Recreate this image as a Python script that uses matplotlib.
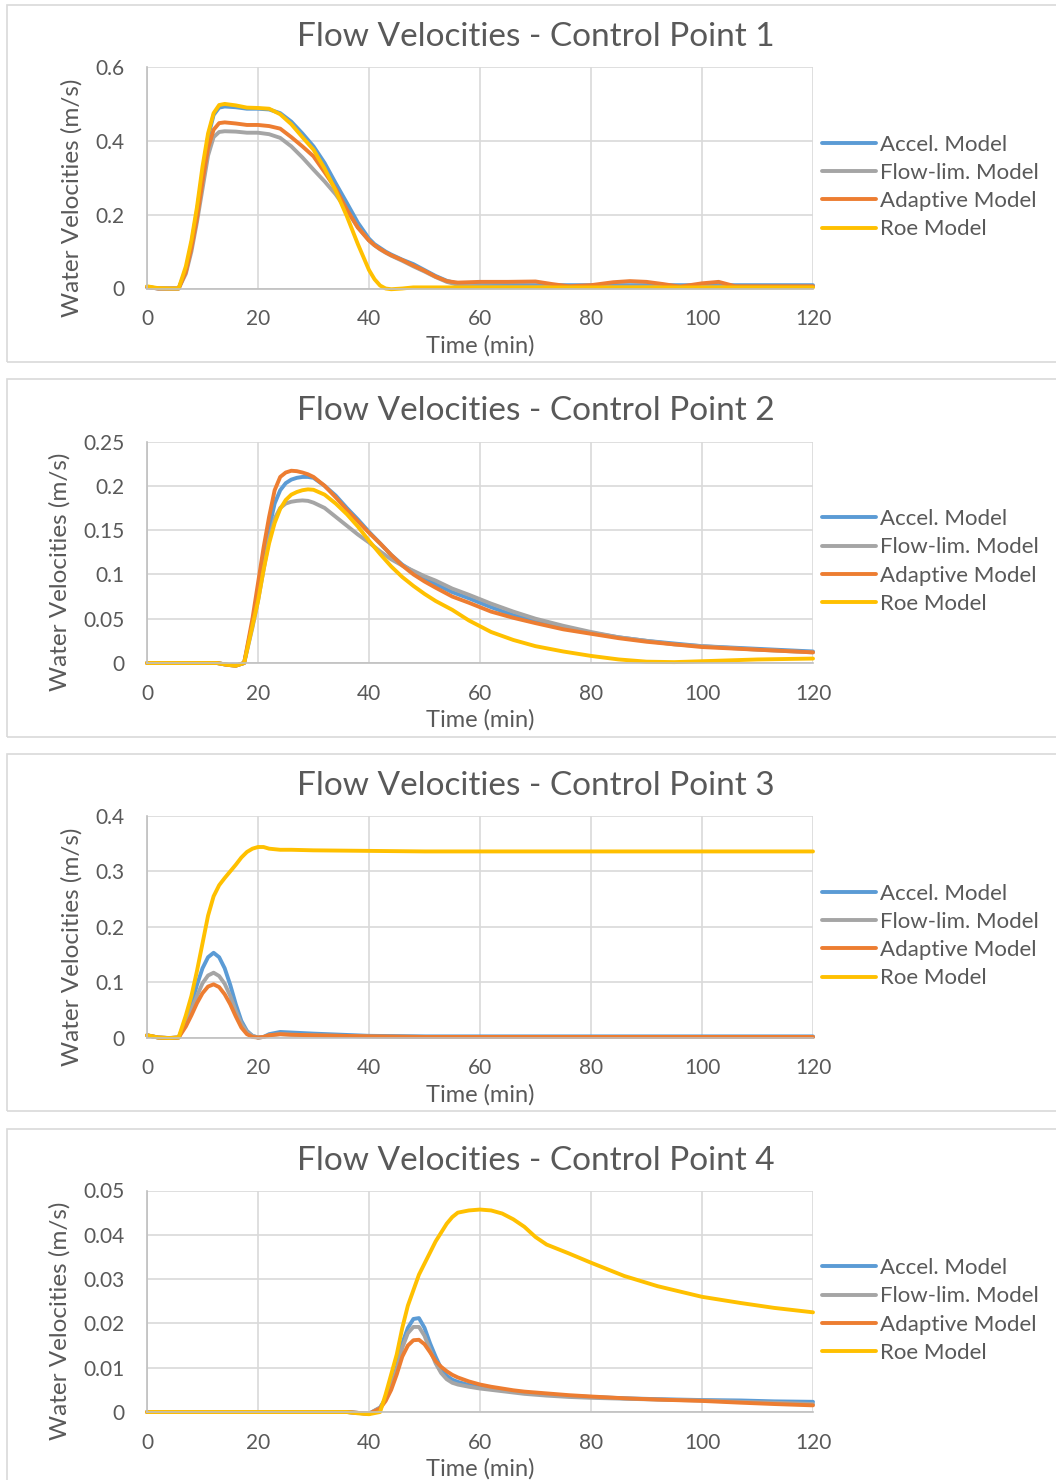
import matplotlib
matplotlib.use("Agg")
import matplotlib.pyplot as plt
from matplotlib.patches import Rectangle

plt.rcParams['font.family'] = ['Lato', 'DejaVu Sans']

# ==========================================
# Datos (tiempo en min, velocidad en m/s)
# ==========================================
series_names = ["Accel. Model", "Flow-lim. Model", "Adaptive Model", "Roe Model"]
series_colors = ["#5B9BD5", "#A5A5A5", "#ED7D31", "#FFC000"]

x_ticks = [0, 20, 40, 60, 80, 100, 120]

# --- Punto de control 1 ---
t1 = [0, 2, 4, 5.7, 7, 8, 9, 10, 11, 12, 13, 14, 16, 18, 20, 22, 24, 26, 28, 30,
      32, 34, 36, 38, 40, 41, 42, 43, 44, 46, 48, 50, 52, 54, 56, 58, 60, 65, 70,
      73, 76, 80, 84, 87, 90, 93, 96, 100, 103, 106, 110, 115, 120]
accel_1 = [0.004, 0, 0, 0, 0.05, 0.12, 0.21, 0.31, 0.41, 0.47, 0.49, 0.493, 0.491, 0.487,
           0.487, 0.485, 0.475, 0.452, 0.42, 0.385, 0.34, 0.285, 0.232, 0.178, 0.135, 0.12,
           0.11, 0.10, 0.092, 0.078, 0.066, 0.05, 0.034, 0.021, 0.013, 0.010, 0.009, 0.009,
           0.009, 0.009, 0.009, 0.009, 0.009, 0.009, 0.009, 0.009, 0.009, 0.009, 0.009,
           0.009, 0.009, 0.009, 0.009]
flowlim_1 = [0.004, 0, 0, 0, 0.04, 0.10, 0.18, 0.27, 0.36, 0.41, 0.424, 0.426, 0.425, 0.422,
             0.422, 0.418, 0.408, 0.385, 0.355, 0.322, 0.29, 0.255, 0.212, 0.165, 0.13, 0.117,
             0.106, 0.097, 0.089, 0.075, 0.06, 0.046, 0.031, 0.018, 0.010, 0.007, 0.006, 0.005,
             0.005, 0.005, 0.005, 0.005, 0.005, 0.005, 0.005, 0.005, 0.005, 0.005, 0.005,
             0.005, 0.005, 0.005, 0.005]
adaptive_1 = [0.004, 0, 0, 0, 0.045, 0.11, 0.19, 0.29, 0.38, 0.43, 0.448, 0.450, 0.447, 0.443,
              0.443, 0.44, 0.433, 0.41, 0.385, 0.358, 0.315, 0.27, 0.214, 0.165, 0.13, 0.117,
              0.107, 0.098, 0.09, 0.077, 0.062, 0.048, 0.032, 0.020, 0.016, 0.017, 0.018, 0.018,
              0.019, 0.012, 0.006, 0.009, 0.017, 0.020, 0.018, 0.012, 0.005, 0.014, 0.018,
              0.006, 0.006, 0.006, 0.006]
roe_1 = [0.006, 0.001, 0, 0, 0.06, 0.13, 0.22, 0.33, 0.42, 0.475, 0.497, 0.500, 0.496, 0.490,
         0.489, 0.487, 0.472, 0.445, 0.41, 0.376, 0.325, 0.265, 0.196, 0.12, 0.05, 0.025,
         0.008, 0.0, -0.002, 0.0, 0.003, 0.003, 0.003, 0.003, 0.003, 0.003, 0.003, 0.003,
         0.003, 0.003, 0.003, 0.003, 0.003, 0.003, 0.003, 0.003, 0.003, 0.003, 0.003,
         0.003, 0.003, 0.003, 0.003]

# --- Punto de control 2 ---
t2 = [0, 5, 10, 12.6, 14.4, 16, 17.5, 19, 20, 21, 22, 23, 24, 25, 26, 27, 28, 29, 30, 32,
      34, 36, 38, 40, 42, 44, 46, 48, 50, 52, 55, 58, 62, 66, 70, 75, 80, 85, 90, 95, 100,
      110, 120]
accel_2 = [0, 0, 0, 0, -0.002, -0.003, 0, 0.045, 0.08, 0.12, 0.152, 0.18, 0.195, 0.203, 0.207,
           0.209, 0.21, 0.21, 0.209, 0.2, 0.189, 0.175, 0.162, 0.148, 0.135, 0.122, 0.111,
           0.103, 0.096, 0.089, 0.08, 0.073, 0.063, 0.054, 0.047, 0.04, 0.034, 0.029, 0.025,
           0.022, 0.019, 0.016, 0.013]
flowlim_2 = [0, 0, 0, 0, -0.002, -0.003, 0, 0.04, 0.07, 0.105, 0.14, 0.163, 0.175, 0.18, 0.182,
             0.183, 0.1835, 0.183, 0.181, 0.175, 0.165, 0.155, 0.145, 0.136, 0.126, 0.117,
             0.11, 0.104, 0.098, 0.093, 0.084, 0.077, 0.067, 0.058, 0.05, 0.042, 0.035, 0.029,
             0.025, 0.021, 0.019, 0.015, 0.012]
adaptive_2 = [0, 0, 0, 0, -0.002, -0.003, 0, 0.05, 0.09, 0.13, 0.165, 0.195, 0.21, 0.215, 0.217,
              0.2165, 0.215, 0.213, 0.21, 0.2, 0.187, 0.173, 0.16, 0.147, 0.135, 0.122, 0.11,
              0.1, 0.092, 0.085, 0.075, 0.068, 0.058, 0.051, 0.045, 0.038, 0.033, 0.028, 0.024,
              0.021, 0.018, 0.015, 0.012]
roe_2 = [0, 0, 0, 0, -0.002, -0.003, 0, 0.042, 0.07, 0.105, 0.135, 0.158, 0.174, 0.184, 0.19,
         0.193, 0.195, 0.196, 0.1955, 0.19, 0.18, 0.168, 0.154, 0.138, 0.123, 0.109, 0.097,
         0.087, 0.078, 0.07, 0.06, 0.048, 0.035, 0.026, 0.019, 0.013, 0.008, 0.004, 0.0015,
         0.001, 0.002, 0.004, 0.005]

# --- Punto de control 3 ---
t3 = [0, 2, 4, 5.7, 7, 8, 9, 10, 11, 12, 13, 14, 15, 16, 17, 18, 19, 20, 21, 22, 24, 26,
      30, 35, 40, 50, 60, 80, 100, 120]
accel_3 = [0.004, 0, -0.001, 0, 0.03, 0.06, 0.095, 0.125, 0.145, 0.153, 0.145, 0.125, 0.095,
           0.06, 0.03, 0.012, 0.003, 0.0, 0.001, 0.006, 0.01, 0.009, 0.007, 0.005, 0.003,
           0.002, 0.002, 0.002, 0.002, 0.002]
flowlim_3 = [0.004, 0, -0.001, 0, 0.025, 0.05, 0.075, 0.098, 0.112, 0.117, 0.111, 0.097,
             0.075, 0.048, 0.025, 0.01, 0.003, 0.0, 0.001, 0.004, 0.006, 0.005, 0.004, 0.003,
             0.002, 0.001, 0.001, 0.001, 0.001, 0.001]
adaptive_3 = [0.004, 0, -0.001, 0, 0.02, 0.04, 0.062, 0.08, 0.092, 0.096, 0.091, 0.078, 0.06,
              0.038, 0.018, 0.006, 0.001, 0.0, 0.001, 0.004, 0.006, 0.005, 0.004, 0.003,
              0.002, 0.001, 0.001, 0.001, 0.001, 0.001]
roe_3 = [0.004, 0, -0.001, 0, 0.04, 0.075, 0.12, 0.17, 0.22, 0.255, 0.275, 0.288, 0.3, 0.312,
         0.325, 0.335, 0.341, 0.344, 0.344, 0.341, 0.339, 0.339, 0.338, 0.3375, 0.337, 0.336,
         0.336, 0.336, 0.336, 0.336]

# --- Punto de control 4 ---
t4 = [0, 10, 20, 30, 36, 38, 40, 42, 43, 44, 45, 46, 47, 48, 49, 50, 51, 52, 53, 54, 55, 56,
      58, 60, 62, 64, 66, 68, 70, 72, 76, 80, 86, 92, 100, 107, 113, 120]
accel_4 = [0, 0, 0, 0, 0, -0.0002, -0.0004, 0.001, 0.003, 0.006, 0.01, 0.0155, 0.019, 0.021,
           0.0212, 0.019, 0.0155, 0.0125, 0.0098, 0.0082, 0.0073, 0.0068, 0.0061, 0.0057,
           0.0053, 0.005, 0.0047, 0.0044, 0.0042, 0.004, 0.0036, 0.0034, 0.0031, 0.0029,
           0.0027, 0.0026, 0.0024, 0.0023]
flowlim_4 = [0, 0, 0, 0, 0, -0.0002, -0.0004, 0.001, 0.003, 0.0058, 0.0095, 0.0145, 0.0178,
             0.0192, 0.0192, 0.0172, 0.014, 0.011, 0.0088, 0.0074, 0.0066, 0.0062, 0.0057,
             0.0053, 0.005, 0.0047, 0.0044, 0.0041, 0.0039, 0.0037, 0.0034, 0.0032, 0.003,
             0.0028, 0.0026, 0.0023, 0.0021, 0.0018]
adaptive_4 = [0, 0, 0, 0, 0, -0.0002, -0.0004, 0.0008, 0.0025, 0.005, 0.0085, 0.0125, 0.015,
              0.0162, 0.0163, 0.0153, 0.0135, 0.0115, 0.0102, 0.0092, 0.0084, 0.0078, 0.0069,
              0.0062, 0.0057, 0.0053, 0.0049, 0.0046, 0.0044, 0.0042, 0.0038, 0.0035, 0.0031,
              0.0028, 0.0025, 0.0021, 0.0018, 0.0015]
roe_4 = [0, 0, 0, 0, 0, -0.0003, -0.0005, 0.0, 0.004, 0.0085, 0.013, 0.019, 0.024, 0.0275,
         0.031, 0.0335, 0.036, 0.0385, 0.0405, 0.0425, 0.044, 0.045, 0.0455, 0.0457, 0.0455,
         0.0448, 0.0435, 0.0418, 0.0395, 0.0378, 0.0358, 0.0337, 0.0307, 0.0284, 0.026,
         0.0246, 0.0235, 0.0225]

y_ticks_1 = [0, 0.2, 0.4, 0.6]
y_labels_1 = ["0", "0.2", "0.4", "0.6"]
y_ticks_2 = [0, 0.05, 0.1, 0.15, 0.2, 0.25]
y_labels_2 = ["0", "0.05", "0.1", "0.15", "0.2", "0.25"]
y_ticks_3 = [0, 0.1, 0.2, 0.3, 0.4]
y_labels_3 = ["0", "0.1", "0.2", "0.3", "0.4"]
y_ticks_4 = [0, 0.01, 0.02, 0.03, 0.04, 0.05]
y_labels_4 = ["0", "0.01", "0.02", "0.03", "0.04", "0.05"]

panels = [
    ("Flow Velocities - Control Point 1", t1, [accel_1, flowlim_1, adaptive_1, roe_1], y_ticks_1, y_labels_1),
    ("Flow Velocities - Control Point 2", t2, [accel_2, flowlim_2, adaptive_2, roe_2], y_ticks_2, y_labels_2),
    ("Flow Velocities - Control Point 3", t3, [accel_3, flowlim_3, adaptive_3, roe_3], y_ticks_3, y_labels_3),
    ("Flow Velocities - Control Point 4", t4, [accel_4, flowlim_4, adaptive_4, roe_4], y_ticks_4, y_labels_4),
]

# ==========================================
# Figura
# ==========================================
W, H = 1056, 1480
fig = plt.figure(figsize=(W / 100, H / 100), dpi=100)
text_color = "#595959"
grid_color = "#D9D9D9"

step = 374.5
for i, (titulo, t, valores, yt, yl) in enumerate(panels):
    off = i * step
    # marco del gráfico (estilo Excel)
    box_top = 5 + off
    box_h = 357
    fig.patches.append(Rectangle((7 / W, 1 - (box_top + box_h) / H), 1.2, box_h / H,
                                 transform=fig.transFigure, facecolor="none",
                                 edgecolor=grid_color, linewidth=1.2, zorder=-1))

    top = 67 + off
    bottom = 288.5 + off
    alto = bottom - top
    ax = fig.add_axes([147 / W, 1 - bottom / H, 666 / W, alto / H])
    ax.set_facecolor("none")

    for nombre, color, v in zip(series_names, series_colors, valores):
        ax.plot(t, v, color=color, linewidth=2.8, label=nombre, clip_on=False,
                solid_joinstyle="round", solid_capstyle="round")

    ax.set_xlim(0, 120)
    ax.set_ylim(yt[0], yt[-1])
    ax.set_xticks(x_ticks)
    ax.set_xticklabels([str(x) for x in x_ticks])
    ax.set_yticks(yt)
    ax.set_yticklabels(yl)
    ax.grid(True, color=grid_color, linewidth=1.2)
    ax.set_axisbelow(True)
    for lado in ["top", "right"]:
        ax.spines[lado].set_visible(False)
    for lado in ["left", "bottom"]:
        ax.spines[lado].set_color("#BFBFBF")
        ax.spines[lado].set_linewidth(1.2)
    ax.tick_params(length=0, labelsize=15, colors=text_color)
    ax.tick_params(axis="x", pad=15)
    ax.tick_params(axis="y", pad=16)

    ax.set_xlabel("Time (min)", fontsize=17, color=text_color)
    ax.xaxis.set_label_coords(0.5, -(335 - 288.5) / alto)
    ax.set_ylabel("Water Velocities (m/s)", fontsize=17.5, color=text_color, va="center")
    ylab_x = 72 if i in (0, 2) else 60
    ax.yaxis.set_label_coords((ylab_x - 147) / 666, 0.5 - 20 / alto)

    fig.text(536 / W, 1 - (37 + off) / H, titulo, fontsize=24, color=text_color,
             ha="center", va="center")

    ax.legend(loc="center left", bbox_to_anchor=(822 / W, 1 - (187 + off) / H),
              bbox_transform=fig.transFigure, frameon=False, fontsize=16,
              labelcolor=text_color, handlelength=2.45, handletextpad=0.18,
              labelspacing=0.37, borderpad=0, borderaxespad=0)

fig.savefig("out.png", dpi=100)
